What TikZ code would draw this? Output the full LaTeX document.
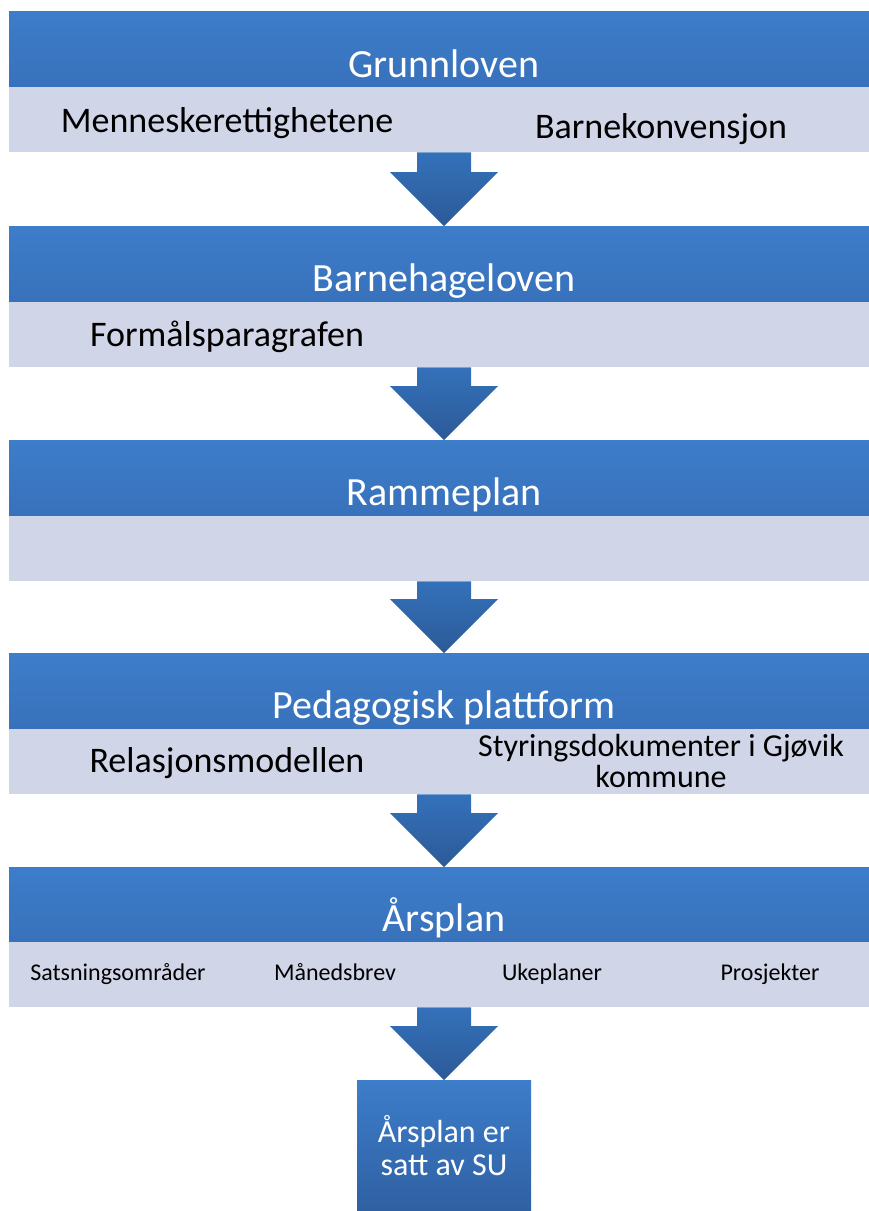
\documentclass[tikz,border=0pt]{standalone}
\usepackage{fontspec}
\setmainfont{Carlito}
\usetikzlibrary{calc}
\definecolor{hdrtop}{RGB}{61,125,202}
\definecolor{hdrbot}{RGB}{56,113,187}
\definecolor{boxbot}{RGB}{47,96,162}
\definecolor{arrtop}{RGB}{52,113,186}
\definecolor{arrbot}{RGB}{44,90,152}
\definecolor{bandgrey}{RGB}{208,214,232}
\tikzset{
  hdr/.style={rectangle,anchor=north,minimum width=870pt,minimum height=76pt,inner sep=0pt,
    top color=hdrtop,middle color=hdrtop,bottom color=hdrbot},
  band/.style={rectangle,anchor=north,minimum width=870pt,minimum height=65pt,inner sep=0pt,
    fill=bandgrey},
  title/.style={anchor=base,inner sep=0pt,text=white,font=\fontsize{40}{44}\selectfont},
  item/.style={anchor=base,inner sep=0pt,font=\fontsize{36}{40}\selectfont},
  smallitem/.style={anchor=base,inner sep=0pt,font=\fontsize{24}{28}\selectfont},
  finalbox/.style={rectangle,anchor=north,minimum width=174pt,minimum height=131pt,inner sep=0pt,
    top color=hdrtop,bottom color=boxbot,text=white,align=center,font=\fontsize{32}{33}\selectfont}
}
\newcommand{\flowarrow}[2]{%
  \shade[top color=arrtop,bottom color=arrbot]
    ($(#1.south)+(-27,0)$) -- ($(#1.south)+(27,0)$) -- ($(#2.north)+(27,-54)$)
    -- ($(#2.north)+(54,-54)$) -- (#2.north) -- ($(#2.north)+(-54,-54)$)
    -- ($(#2.north)+(-27,-54)$) -- cycle;}

\begin{document}
\begin{tikzpicture}[x=1pt,y=-1pt]
    \useasboundingbox (0,0) rectangle (869,1211);
    \node[hdr] (grl) at (444,11) {};
    \node[band] (grlband) at (444,87) {};
    \node[title] (grltxt) at (444,77) {Grunnloven};
    \node[item] (menn) at (227,132) {Menneskerettighetene};
    \node[item] (bkonv) at (661,138) {Barnekonvensjon};

    \node[hdr] (bhl) at (444,226) {};
    \node[band] (bhlband) at (444,302) {};
    \node[title] (bhltxt) at (444,291) {Barnehageloven};
    \node[item] (formal) at (227,346) {Formålsparagrafen};

    \node[hdr] (rpl) at (444,440) {};
    \node[band] (rplband) at (444,516) {};
    \node[title] (rpltxt) at (444,505) {Rammeplan};

    \node[hdr] (ped) at (444,653) {};
    \node[band] (pedband) at (444,729) {};
    \node[title] (pedtxt) at (444,718) {Pedagogisk plattform};
    \node[item] (relas) at (227,772) {Relasjonsmodellen};
    \node[anchor=center,inner sep=0pt,align=center,font=\fontsize{32}{31}\selectfont] (styr) at (661,761)
        {Styringsdokumenter i Gjøvik\\kommune};

    \node[hdr] (arp) at (444,867) {};
    \node[band] (arpband) at (444,942) {};
    \node[title] (arptxt) at (444,931) {Årsplan};
    \node[smallitem] (sats) at (118,980) {Satsningsområder};
    \node[smallitem] (mnd) at (335,980) {Månedsbrev};
    \node[smallitem] (uke) at (552,980) {Ukeplaner};
    \node[smallitem] (pros) at (770,980) {Prosjekter};

    \node[finalbox] (su) at (444,1080) {Årsplan er\\satt av SU};

    \flowarrow{grlband}{bhl}
    \flowarrow{bhlband}{rpl}
    \flowarrow{rplband}{ped}
    \flowarrow{pedband}{arp}
    \flowarrow{arpband}{su}
\end{tikzpicture}
\end{document}
